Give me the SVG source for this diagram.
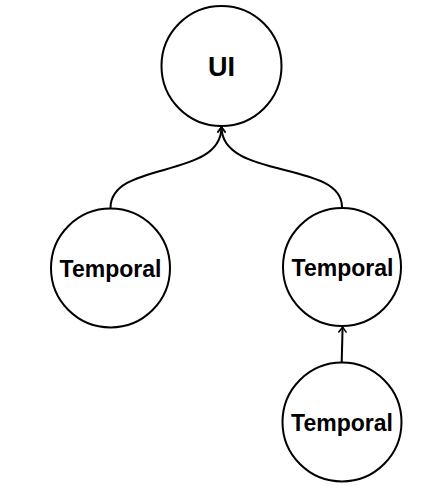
<svg xmlns="http://www.w3.org/2000/svg" width="425" height="488" viewBox="0 0 425 488">
<style>
.node circle{fill:#fff;stroke:#000;stroke-width:2}
.node text{font-family:"Liberation Sans",Arial,sans-serif;font-weight:bold;fill:#000;text-anchor:middle}
.t{font-size:23px}
.u{font-size:27px}
.edge{fill:none;stroke:#000;stroke-width:2}
</style>
<defs>
<marker id="open" markerUnits="userSpaceOnUse" markerWidth="12" markerHeight="12" viewBox="0 0 12 12" refX="7" refY="6" orient="auto" overflow="visible">
<path d="M1.5 2 L7 6 L1.5 10" fill="none" stroke="#000" stroke-width="1.6"/>
</marker>
</defs>
<rect width="425" height="488" fill="#fff"/>
<g id="connectors">
<path class="edge" d="M110.5 208 C110.5 160 221.5 180 221.5 127" marker-end="url(#open)"/>
<path class="edge" d="M342 207 C342 160 221.5 180 221.5 127" marker-end="url(#open)"/>
<path class="edge" d="M341.7 362 L342.6 327" marker-end="url(#open)"/>
</g>
<g id="node-ui" class="node">
<circle cx="221.5" cy="66" r="60"/>
<text class="u" x="221.5" y="75.5">UI</text>
</g>
<g id="node-temporal-left" class="node">
<circle cx="110.5" cy="268" r="59.5"/>
<text class="t" x="110.5" y="276.5">Temporal</text>
</g>
<g id="node-temporal-right" class="node">
<circle cx="342" cy="267" r="59"/>
<text class="t" x="342.5" y="275.5">Temporal</text>
</g>
<g id="node-temporal-bottom" class="node">
<circle cx="342" cy="422" r="59.5"/>
<text class="t" x="342" y="430.5">Temporal</text>
</g>
</svg>
